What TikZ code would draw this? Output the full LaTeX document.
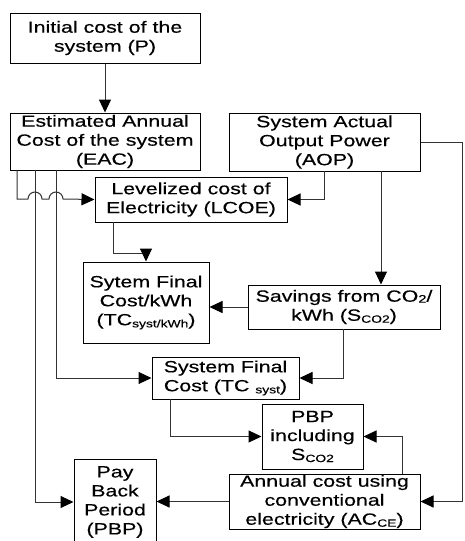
\documentclass[tikz,border=0pt]{standalone}
\usepackage{fontspec}
\setmainfont{Liberation Sans}[FakeStretch=1.32,FakeBold=0.4]
\usetikzlibrary{arrows.meta}
\newcommand{\mysub}[1]{\raisebox{-2pt}{\fontsize{10.5}{10.5}\selectfont #1}}
\newcommand{\mysm}[1]{\raisebox{-1pt}{\fontsize{11}{11}\selectfont #1}}
\begin{document}
\begin{tikzpicture}[x=1pt,y=-1pt,
  box/.style={draw, line width=1pt, inner sep=0pt, align=center, font=\fontsize{16.2}{19}\selectfont},
  conn/.style={line width=1pt, black!80},
  arr/.style={conn, -{Triangle[length=13pt,width=12pt,fill=black,color=black]}}]
\useasboundingbox (0,0) rectangle (464,541);
\fill[white] (0,0) rectangle (464,541);

\node[box, minimum width=190pt, minimum height=50pt] (init) at (105,38) {Initial cost of the\\system (P)};
\node[box, minimum width=190pt, minimum height=57pt] (eac) at (105,141.5) {Estimated Annual\\Cost of the system\\(EAC)};
\node[box, minimum width=191pt, minimum height=58pt] (aop) at (324.5,142) {System Actual\\Output Power\\(AOP)};
\node[box, minimum width=192pt, minimum height=45pt] (lcoe) at (191,199.5) {Levelized cost of\\Electricity (LCOE)};
\node[box, minimum width=126pt, minimum height=81pt] (tckwh) at (146,302.5) {Sytem Final\\Cost/kWh\\(TC\mysub{syst/kWh})};
\node[box, minimum width=192pt, minimum height=44pt] (sav) at (344,307) {Savings from CO\mysm{2}/\\kWh (S\mysub{CO2})};
\node[box, minimum width=147pt, minimum height=42pt] (tcs) at (225.5,378) {System Final\\Cost (TC \mysub{syst})};
\node[box, minimum width=101pt, minimum height=65pt] (pbpi) at (312.5,436.5) {PBP\\including\\S\mysub{CO2}};
\node[box, minimum width=191pt, minimum height=55pt] (ace) at (324.5,501.5) {Annual cost using\\conventional\\electricity (AC\mysub{CE})};
\node[box, minimum width=82pt, minimum height=86pt] (pbp) at (115,502) {Pay\\Back\\Period\\(PBP)};

% free-end coordinates
\coordinate (e1) at (17,170);
\coordinate (e2) at (35,170);
\coordinate (e3) at (56,170);
\coordinate (a1) at (324,171);
\coordinate (a2) at (381,171);
\coordinate (l1) at (113,222);
\coordinate (s1) at (343,329);
\coordinate (t1) at (170,399);
\coordinate (c1) at (402,474);
\coordinate (rr) at (462,142);

\draw[arr] (init.south) -- (eac.north);
\draw[arr] (a1) |- (lcoe.east);
\draw[arr] (e1) -- (17,199) -- (28,199) arc[start angle=180, end angle=0, radius=7pt] -- (49,199) arc[start angle=180, end angle=0, radius=7pt] -- (lcoe.west);
\draw[arr] (e2) |- (pbp.west);
\draw[arr] (e3) |- (tcs.west);
\draw[arr] (l1) -- (113,253) -| (tckwh.north);
\draw[arr] (a2) -- (a2 |- sav.north);
\draw[arr] (sav.west) -- (sav.west -| tckwh.east);
\draw[arr] (s1) |- (tcs.east);
\draw[arr] (t1) |- (pbpi.west);
\draw[arr] (c1) |- (pbpi.east);
\draw[arr] (aop.east) -- (rr) |- (ace.east);
\draw[arr] (ace.west) -- (ace.west -| pbp.east);
\end{tikzpicture}
\end{document}
